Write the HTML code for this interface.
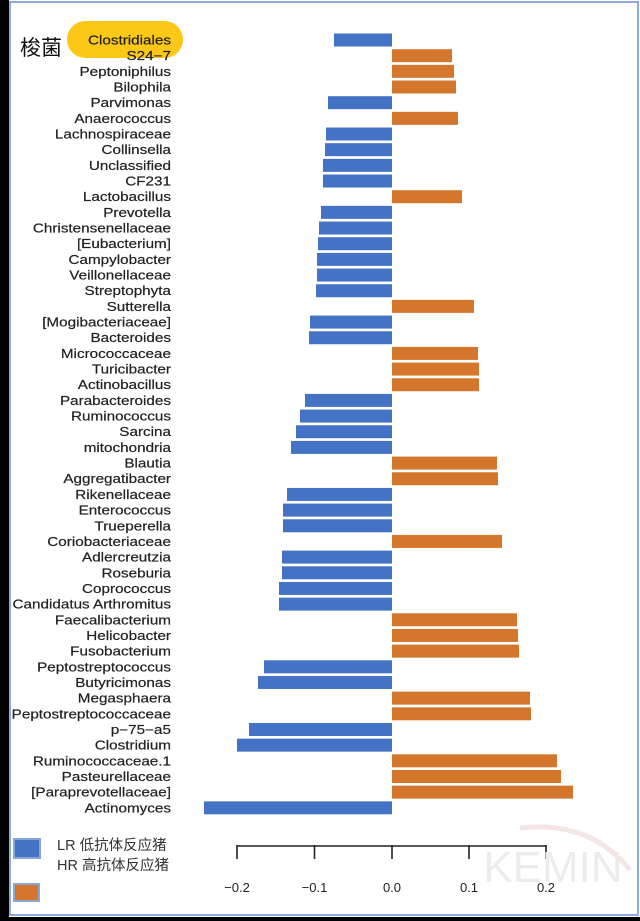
<!DOCTYPE html>
<html><head><meta charset="utf-8"><style>
html,body{margin:0;padding:0;background:#fff;}
svg{display:block;}
text{font-family:"Liberation Sans",Arial,sans-serif;}
</style></head><body>
<svg width="640" height="921" viewBox="0 0 640 921" xmlns="http://www.w3.org/2000/svg">
<rect x="0" y="0" width="640" height="921" fill="#fff"/>
<rect x="67" y="21" width="116" height="37" rx="18.5" fill="#fbc818"/>
<text x="20" y="55" font-size="21" font-family="'Noto Sans CJK SC',sans-serif" fill="#111">梭菌</text>
<g id="bars"></g>
<g transform="translate(171,0) scale(1.22,1)"><g id="labels" font-size="12.5" fill="#222" stroke="#222" stroke-width="0.2" text-anchor="end"></g></g>
<line x1="237" y1="846" x2="546" y2="846" stroke="#222" stroke-width="1.6"/>
<g stroke="#222" stroke-width="1.6">
<line x1="237" y1="845" x2="237" y2="859"/><line x1="314.5" y1="845" x2="314.5" y2="859"/>
<line x1="392" y1="845" x2="392" y2="859"/><line x1="469" y1="845" x2="469" y2="859"/>
<line x1="546" y1="845" x2="546" y2="859"/></g>
<g font-size="13" fill="#222" text-anchor="middle">
<text x="237" y="892">−0.2</text><text x="314.5" y="892">−0.1</text><text x="392" y="892">0.0</text>
<text x="469" y="892">0.1</text><text x="546" y="892">0.2</text></g>
<text x="553" y="882" font-size="44" fill="#ececec" text-anchor="middle">KEMIN</text>
<path d="M520 828 Q590 820 630 870" stroke="#f5e6e6" stroke-width="5" fill="none"/>
<rect x="14" y="839" width="26" height="19" fill="#4472c4" stroke="#8aa6d8" stroke-width="2"/>
<rect x="14" y="884" width="25" height="17" fill="#d4772c" stroke="#8aa6d8" stroke-width="2"/>
<g font-size="14.5" fill="#333" font-family="'Liberation Sans','Noto Sans CJK SC',sans-serif">
<text x="57" y="850">LR 低抗体反应猪</text><text x="57" y="870">HR 高抗体反应猪</text></g>
<rect x="0" y="0" width="9" height="921" fill="#000"/>
<rect x="0" y="917" width="640" height="4" fill="#000"/>
<rect x="10" y="2" width="628" height="913" fill="none" stroke="#8ea9db" stroke-width="2"/>
</svg>
<script>
var d=[["Clostridiales",334],["S24−7",452],["Peptoniphilus",454],["Bilophila",456],["Parvimonas",328],["Anaerococcus",458],["Lachnospiraceae",326],["Collinsella",325],["Unclassified",323],["CF231",323],["Lactobacillus",462],["Prevotella",321],["Christensenellaceae",319],["[Eubacterium]",318],["Campylobacter",317],["Veillonellaceae",317],["Streptophyta",316],["Sutterella",474],["[Mogibacteriaceae]",310],["Bacteroides",309],["Micrococcaceae",478],["Turicibacter",479],["Actinobacillus",479],["Parabacteroides",305],["Ruminococcus",300],["Sarcina",296],["mitochondria",291],["Blautia",497],["Aggregatibacter",498],["Rikenellaceae",287],["Enterococcus",283],["Trueperella",283],["Coriobacteriaceae",502],["Adlercreutzia",282],["Roseburia",282],["Coprococcus",279],["Candidatus Arthromitus",279],["Faecalibacterium",517],["Helicobacter",518],["Fusobacterium",519],["Peptostreptococcus",264],["Butyricimonas",258],["Megasphaera",530],["Peptostreptococcaceae",531],["p−75−a5",249],["Clostridium",237],["Ruminococcaceae.1",557],["Pasteurellaceae",561],["[Paraprevotellaceae]",573],["Actinomyces",204]];
var ns="http://www.w3.org/2000/svg",b=document.getElementById("bars"),l=document.getElementById("labels");
d.forEach(function(r,i){var y=40+i*15.67;var x=r[1];var e=document.createElementNS(ns,"rect");
var neg=x<392;e.setAttribute("x",neg?x:392);e.setAttribute("width",Math.abs(x-392));e.setAttribute("y",y-6.5);e.setAttribute("height",13);
e.setAttribute("fill",neg?"#4472c4":"#d4772c");b.appendChild(e);
var t=document.createElementNS(ns,"text");t.setAttribute("x",0);t.setAttribute("y",y+4.5);t.textContent=r[0];l.appendChild(t);});
</script>
</body></html>
